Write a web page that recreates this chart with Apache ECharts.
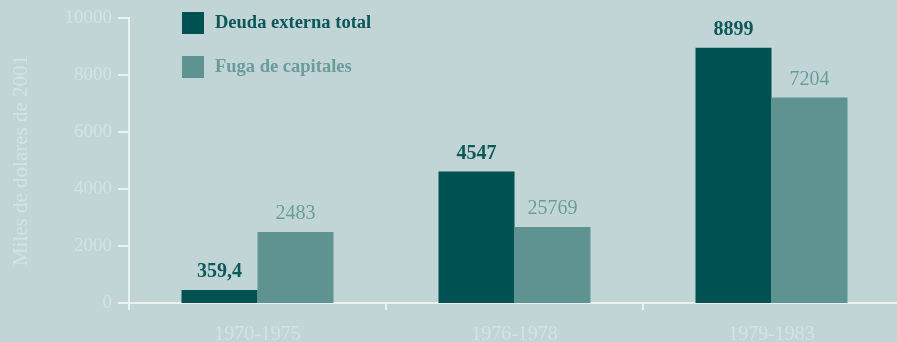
<!DOCTYPE html>
<html>
<head>
<meta charset="utf-8">
<script src="https://cdn.jsdelivr.net/npm/echarts@6/dist/echarts.min.js"></script>
<style>
html,body{margin:0;padding:0;background:#c2d5d6;}
#chart{width:897px;height:342px;}
</style>
</head>
<body>
<div id="chart"></div>
<script>
var categories = ['1970-1975', '1976-1978', '1979-1983'];
var deudaValues = [456, 4610, 8960];
var fugaValues = [2490, 2670, 7210];
var deudaLabels = ['359,4', '4547', '8899'];
var fugaLabels = ['2483', '25769', '7204'];
var seriesNames = ['Deuda externa total', 'Fuga de capitales'];
var yAxisName = 'Miles de dolares de 2001';

var FONT = '"Liberation Serif", "DejaVu Serif", serif';
var DARK = '#005151';
var LIGHT = '#5e9392';
var AXIS = 'rgba(240,246,246,0.85)';
var FAINT = '#d3e2e2';

var chart = echarts.init(document.getElementById('chart'));
chart.setOption({
  backgroundColor: '#c2d5d6',
  animation: false,
  grid: {left: 129, top: 18, width: 771, bottom: 39, containLabel: false, outerBoundsMode: 'none'},
  legend: {
    orient: 'vertical',
    left: 177,
    top: 7,
    itemWidth: 22,
    itemHeight: 22,
    itemGap: 22,
    icon: 'rect',
    data: [
      {name: seriesNames[0], textStyle: {color: '#0b5757', fontWeight: 'bold'}},
      {name: seriesNames[1], textStyle: {color: '#6a9c9b', fontWeight: 'bold'}}
    ],
    textStyle: {fontFamily: FONT, fontSize: 18.5, padding: [0, 0, 0, 6]}
  },
  xAxis: {
    type: 'category',
    data: categories,
    axisLine: {show: true, lineStyle: {color: AXIS, width: 2}},
    axisTick: {show: true, length: 7, lineStyle: {color: AXIS, width: 2}},
    axisLabel: {color: FAINT, fontFamily: FONT, fontSize: 20, margin: 22}
  },
  yAxis: {
    type: 'value',
    min: 0,
    max: 10000,
    interval: 2000,
    name: yAxisName,
    nameLocation: 'middle',
    nameGap: 97,
    nameTextStyle: {color: FAINT, fontFamily: FONT, fontSize: 21},
    splitLine: {show: false},
    axisLine: {show: true, lineStyle: {color: AXIS, width: 2}},
    axisTick: {show: true, length: 11, lineStyle: {color: AXIS, width: 2}},
    axisLabel: {color: FAINT, fontFamily: FONT, fontSize: 19, margin: 17,
      formatter: function (v) { return String(v); }}
  },
  series: [
    {
      name: seriesNames[0],
      type: 'bar',
      data: deudaValues,
      barWidth: 76,
      barGap: '0%',
      itemStyle: {color: DARK},
      label: {
        show: true, position: 'top', distance: 8,
        fontFamily: FONT, fontSize: 20, fontWeight: 'bold', color: '#0d5959',
        formatter: function (p) { return deudaLabels[p.dataIndex]; }
      }
    },
    {
      name: seriesNames[1],
      type: 'bar',
      data: fugaValues,
      barWidth: 76,
      barGap: '0%',
      itemStyle: {color: LIGHT},
      label: {
        show: true, position: 'top', distance: 8,
        fontFamily: FONT, fontSize: 20, color: '#6a9c9b',
        formatter: function (p) { return fugaLabels[p.dataIndex]; }
      }
    }
  ]
});
</script>
</body>
</html>
